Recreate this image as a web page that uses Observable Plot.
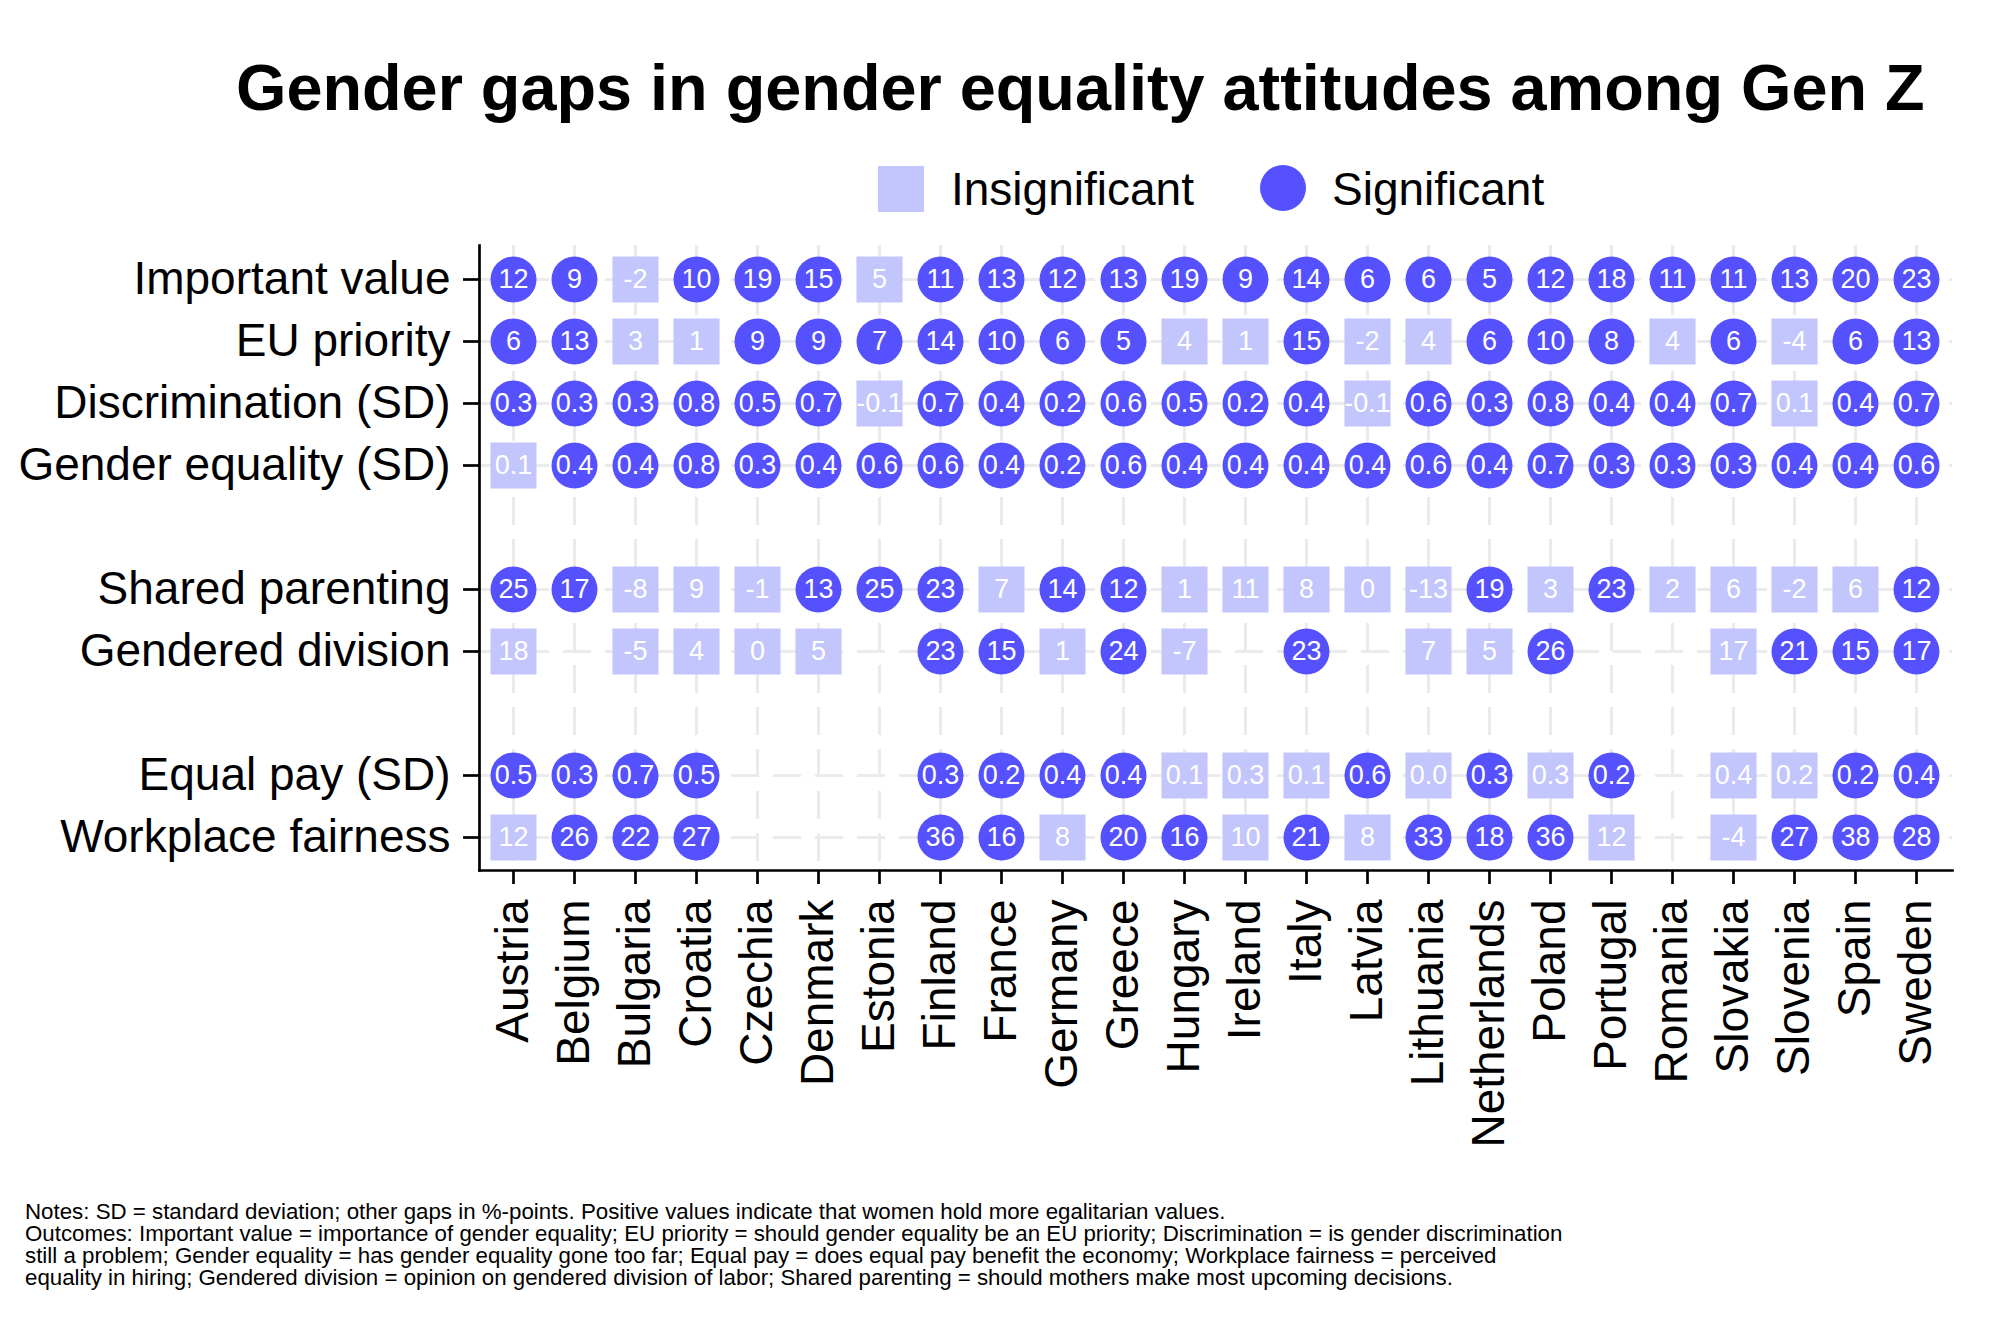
<!DOCTYPE html>
<html>
<head>
<meta charset="utf-8">
<script src="https://cdn.jsdelivr.net/npm/d3@7"></script>
<script src="https://cdn.jsdelivr.net/npm/@observablehq/plot@0.6"></script>
<style>
  html, body { margin: 0; padding: 0; background: #fff; }
  #page { position: relative; width: 2000px; height: 1333px; background: #fff; font-family: "Liberation Sans", Arial, Helvetica, sans-serif; color: #000; overflow: hidden; }
  #title { position: absolute; left: 236px; top: 55px; font-size: 64.8px; line-height: 65px; font-weight: bold; white-space: nowrap; }
  .lg-sym { position: absolute; width: 46px; height: 46px; }
  .lg-txt { position: absolute; font-size: 46px; line-height: 46px; white-space: nowrap; }
  #chart { position: absolute; left: 0; top: 230px; }
  #notes { position: absolute; left: 25px; top: 1201px; font-size: 22.3px; line-height: 22px; white-space: nowrap; }
</style>
</head>
<body>
<div id="page">
  <div id="title"></div>
  <div id="legend"></div>
  <div id="chart"></div>
  <div id="notes"></div>
</div>
<script>
// ---------------- DATA ----------------
const titleText = "Gender gaps in gender equality attitudes among Gen Z";
const legendLabels = ["Insignificant", "Significant"];
const countries = ["Austria","Belgium","Bulgaria","Croatia","Czechia","Denmark","Estonia","Finland","France","Germany","Greece","Hungary","Ireland","Italy","Latvia","Lithuania","Netherlands","Poland","Portugal","Romania","Slovakia","Slovenia","Spain","Sweden"];
const outcomes = ["Important value","EU priority","Discrimination (SD)","Gender equality (SD)","Shared parenting","Gendered division","Equal pay (SD)","Workplace fairness"];
// row order incl. blank spacer rows between groups
const rowOrder = ["Important value","EU priority","Discrimination (SD)","Gender equality (SD)"," ","Shared parenting","Gendered division","  ","Equal pay (SD)","Workplace fairness"];
const sdOutcomes = ["Discrimination (SD)","Gender equality (SD)","Equal pay (SD)"];

const importantValue    = [12,9,-2,10,19,15,5,11,13,12,13,19,9,14,6,6,5,12,18,11,11,13,20,23];
const importantValueSig = [1,1,0,1,1,1,0,1,1,1,1,1,1,1,1,1,1,1,1,1,1,1,1,1];
const euPriority        = [6,13,3,1,9,9,7,14,10,6,5,4,1,15,-2,4,6,10,8,4,6,-4,6,13];
const euPrioritySig     = [1,1,0,0,1,1,1,1,1,1,1,0,0,1,0,0,1,1,1,0,1,0,1,1];
const discrimination    = [0.3,0.3,0.3,0.8,0.5,0.7,-0.1,0.7,0.4,0.2,0.6,0.5,0.2,0.4,-0.1,0.6,0.3,0.8,0.4,0.4,0.7,0.1,0.4,0.7];
const discriminationSig = [1,1,1,1,1,1,0,1,1,1,1,1,1,1,0,1,1,1,1,1,1,0,1,1];
const genderEquality    = [0.1,0.4,0.4,0.8,0.3,0.4,0.6,0.6,0.4,0.2,0.6,0.4,0.4,0.4,0.4,0.6,0.4,0.7,0.3,0.3,0.3,0.4,0.4,0.6];
const genderEqualitySig = [0,1,1,1,1,1,1,1,1,1,1,1,1,1,1,1,1,1,1,1,1,1,1,1];
const sharedParenting    = [25,17,-8,9,-1,13,25,23,7,14,12,1,11,8,0,-13,19,3,23,2,6,-2,6,12];
const sharedParentingSig = [1,1,0,0,0,1,1,1,0,1,1,0,0,0,0,0,1,0,1,0,0,0,0,1];
const genderedDivision    = [18,null,-5,4,0,5,null,23,15,1,24,-7,null,23,null,7,5,26,null,null,17,21,15,17];
const genderedDivisionSig = [0,null,0,0,0,0,null,1,1,0,1,0,null,1,null,0,0,1,null,null,0,1,1,1];
const equalPay    = [0.5,0.3,0.7,0.5,null,null,null,0.3,0.2,0.4,0.4,0.1,0.3,0.1,0.6,0.0,0.3,0.3,0.2,null,0.4,0.2,0.2,0.4];
const equalPaySig = [1,1,1,1,null,null,null,1,1,1,1,0,0,0,1,0,1,0,1,null,0,0,1,1];
const workplaceFairness    = [12,26,22,27,null,null,null,36,16,8,20,16,10,21,8,33,18,36,12,null,-4,27,38,28];
const workplaceFairnessSig = [0,1,1,1,null,null,null,1,1,0,1,1,0,1,0,1,1,1,0,null,0,1,1,1];

const noteLines = [
  "Notes: SD = standard deviation; other gaps in %-points. Positive values indicate that women hold more egalitarian values.",
  "Outcomes: Important value = importance of gender equality; EU priority = should gender equality be an EU priority; Discrimination = is gender discrimination",
  "still a problem; Gender equality = has gender equality gone too far; Equal pay = does equal pay benefit the economy; Workplace fairness = perceived",
  "equality in hiring; Gendered division = opinion on gendered division of labor; Shared parenting = should mothers make most upcoming decisions."
];

// ---------------- STYLE ----------------
const sigColor = "#5551ff";
const insigColor = "#c3c5fd";
const gridColor = "#ebebeb";
const fontFamily = "'Liberation Sans', Arial, Helvetica, sans-serif";

// ---------------- BUILD ----------------
const seriesValues = [importantValue, euPriority, discrimination, genderEquality, sharedParenting, genderedDivision, equalPay, workplaceFairness];
const seriesSig = [importantValueSig, euPrioritySig, discriminationSig, genderEqualitySig, sharedParentingSig, genderedDivisionSig, equalPaySig, workplaceFairnessSig];

const cells = [];
outcomes.forEach((o, i) => {
  countries.forEach((c, j) => {
    const v = seriesValues[i][j];
    if (v === null || v === undefined) return;
    const isSD = sdOutcomes.includes(o);
    cells.push({
      country: c,
      outcome: o,
      value: v,
      significant: seriesSig[i][j] === 1,
      label: isSD ? v.toFixed(1) : String(Math.round(v))
    });
  });
});

document.getElementById("title").textContent = titleText;

// legend
const legend = document.getElementById("legend");
legend.innerHTML = `
  <div class="lg-sym" style="left:878px;top:166px;background:${insigColor}"></div>
  <div class="lg-txt" style="left:951px;top:166px">${legendLabels[0]}</div>
  <div class="lg-sym" style="left:1260px;top:165px;background:${sigColor};border-radius:50%"></div>
  <div class="lg-txt" style="left:1332px;top:166px">${legendLabels[1]}</div>`;

const gridOpts = {stroke: gridColor, strokeOpacity: 1, strokeWidth: 3, strokeDasharray: "28,14"};

const chart = Plot.plot({
  width: 2000,
  height: 940,
  marginLeft: 479,
  marginRight: 48,
  marginTop: 15,
  marginBottom: 300,
  style: {fontFamily, fontSize: "46px", color: "#000", background: "transparent"},
  x: {type: "point", domain: countries, padding: 0, insetLeft: 28.5, insetRight: 30, label: null},
  y: {type: "point", domain: rowOrder, padding: 0, insetTop: 30, insetBottom: 29, label: null},
  marks: [
    Plot.gridX(countries, gridOpts),
    Plot.gridY(outcomes, gridOpts),
    Plot.frame({anchor: "left", stroke: "#000", strokeWidth: 2.7}),
    Plot.frame({anchor: "bottom", stroke: "#000", strokeWidth: 2.7}),
    Plot.axisY(outcomes, {anchor: "left", label: null, tickSize: 16, tickPadding: 13, fontSize: 46, strokeWidth: 2.7, fill: "#000"}),
    Plot.axisX(countries, {anchor: "bottom", label: null, tickSize: 14, tickPadding: 15, tickRotate: -90, fontSize: 46, strokeWidth: 2.7, fill: "#000"}),
    Plot.dot(cells.filter(d => !d.significant), {x: "country", y: "outcome", symbol: "square", r: 26, fill: insigColor, stroke: "none"}),
    Plot.dot(cells.filter(d => d.significant), {x: "country", y: "outcome", symbol: "circle", r: 23, fill: sigColor, stroke: "none"}),
    Plot.text(cells, {x: "country", y: "outcome", text: "label", fill: "#fff", fontSize: 27})
  ]
});
document.getElementById("chart").appendChild(chart);

const notes = document.getElementById("notes");
noteLines.forEach(t => { const d = document.createElement("div"); d.textContent = t; notes.appendChild(d); });
</script>
</body>
</html>
